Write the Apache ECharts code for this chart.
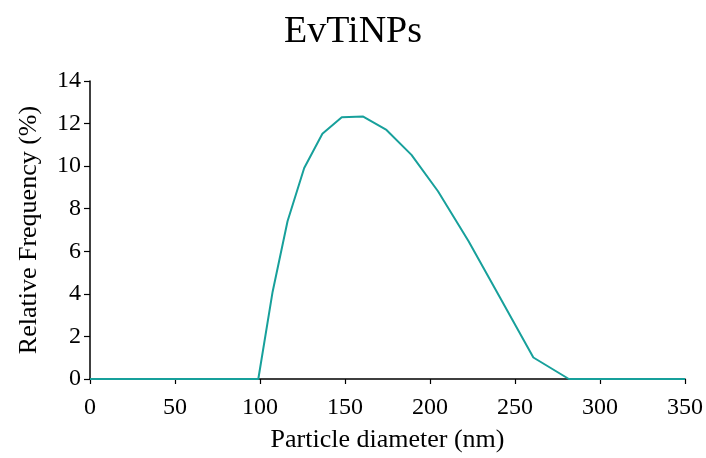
<!DOCTYPE html>
<html>
<head>
<meta charset="utf-8">
<script src="https://cdn.jsdelivr.net/npm/echarts@6/dist/echarts.min.js"></script>
<style>html,body{margin:0;padding:0;background:#fff}#c{width:706px;height:458px}</style>
</head>
<body>
<div id="c"></div>
<script>
var diameters = [0, 99, 107.4, 116.2, 126, 136.7, 148.1, 160.7, 174.4, 189.1, 204.7, 222.7, 241, 260.8, 281.7, 350];
var frequencies = [0, 0, 4.09, 7.41, 9.91, 11.52, 12.30, 12.33, 11.70, 10.53, 8.82, 6.47, 3.85, 1.01, 0, 0];
var xTicks = [0, 50, 100, 150, 200, 250, 300, 350];
var yTicks = [0, 2, 4, 6, 8, 10, 12, 14];

var font = '"Liberation Serif", "Times New Roman", serif';
var chart = echarts.init(document.getElementById('c'), null, {renderer: 'canvas'});
chart.setOption({
  animation: false,
  title: {
    text: 'EvTiNPs', left: 'center', top: 8,
    textStyle: {fontFamily: font, fontSize: 38, fontWeight: 'normal', color: '#000'}
  },
  grid: {left: 90, right: 19, top: 81, bottom: 78, containLabel: false},
  xAxis: {
    type: 'value', min: xTicks[0], max: xTicks[xTicks.length - 1], interval: 50,
    name: 'Particle diameter (nm)', nameLocation: 'middle', nameGap: 48,
    nameTextStyle: {fontFamily: font, fontSize: 26, color: '#000'},
    axisLine: {show: true, lineStyle: {color: '#000', width: 1.5}},
    axisTick: {show: true, length: 5, lineStyle: {color: '#000', width: 1.2}},
    axisLabel: {fontFamily: font, fontSize: 24, color: '#000', margin: 17},
    splitLine: {show: false}
  },
  yAxis: {
    type: 'value', min: yTicks[0], max: yTicks[yTicks.length - 1], interval: 2,
    name: 'Relative Frequency (%)', nameLocation: 'middle', nameGap: 48,
    nameTextStyle: {fontFamily: font, fontSize: 26, color: '#000'},
    axisLine: {show: true, lineStyle: {color: '#000', width: 1.5}},
    axisTick: {show: true, length: 6, lineStyle: {color: '#000', width: 1.2}},
    axisLabel: {fontFamily: font, fontSize: 24, color: '#000', margin: 9},
    splitLine: {show: false}
  },
  series: [{
    type: 'line',
    data: diameters.map(function (d, i) { return [d, frequencies[i]]; }),
    showSymbol: false, symbol: 'none',
    lineStyle: {color: '#17a09b', width: 2},
    z: 5
  }]
});
</script>
</body>
</html>
